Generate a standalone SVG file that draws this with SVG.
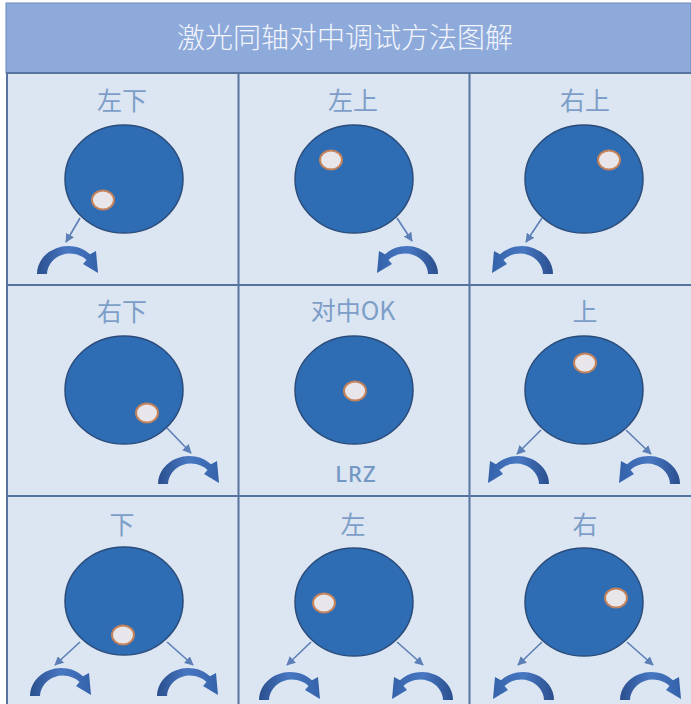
<svg xmlns="http://www.w3.org/2000/svg" width="691" height="704" viewBox="0 0 691 704">
<style>
.bg{fill:#dce6f2}
.grid{stroke:#56749f;stroke-width:2;fill:none}
.title{font-family:"Noto Sans CJK SC","Noto Sans",sans-serif;font-size:28px;font-weight:300;fill:#f2f5fb;text-anchor:middle}
.lbl{font-family:"Noto Sans CJK SC","Noto Sans",sans-serif;font-size:25px;fill:#7c9ec8;text-anchor:middle}
.lrz{font-family:"Noto Sans",sans-serif;font-size:22px;font-weight:500;letter-spacing:1px;fill:#7498c4;text-anchor:middle}
.disk{fill:#2e6db4;stroke:#2b4c7a;stroke-width:1.5}
.hole{fill:#e8e6ea;stroke:#c4825a;stroke-width:2}
.ptr{stroke:#5b7fb6;stroke-width:1.6;fill:none;marker-end:url(#ah)}
.rot{fill:url(#rg)}
</style>
<defs>
<marker id="ah" viewBox="0 0 10 10" refX="9" refY="5" markerWidth="9" markerHeight="9" markerUnits="userSpaceOnUse" orient="auto">
<path d="M0,0 L10,5 L0,10 Z" fill="#5b7fb6"/>
</marker>
<linearGradient id="rg" x1="0" y1="0" x2="1" y2="0">
<stop offset="0" stop-color="#2a4f8e"/>
<stop offset="0.5" stop-color="#4877c2"/>
<stop offset="1" stop-color="#3462aa"/>
</linearGradient>
<path id="cw" d="M-31,0 A31 28 0 0 1 22,-19.7 L28,-23 L30,-1 L15,-10 L18.5,-14 A23 21 0 0 0 -21,0 Z"/>
</defs>

<rect x="6" y="73" width="685" height="631" class="bg"/>
<g id="header">
<rect x="6" y="3" width="685" height="70" fill="#8eaadb" stroke="#6a89bd" stroke-width="1"/>
<text x="345" y="48" class="title">激光同轴对中调试方法图解</text>
</g>
<g id="grid">
<path class="grid" d="M7,73 V704 M238.5,73 V704 M469.5,73 V704 M6,73 H691 M6,285 H691 M6,496 H691"/>
</g>

<g id="cell-zuoxia">
<text x="122" y="110" class="lbl">左下</text>
<ellipse cx="124" cy="179" rx="59" ry="54" class="disk"/>
<ellipse cx="103" cy="200" rx="11" ry="9.5" class="hole"/>
</g>
<g id="cell-zuoshang">
<text x="353" y="110" class="lbl">左上</text>
<ellipse cx="354" cy="179" rx="59" ry="54" class="disk"/>
<ellipse cx="331" cy="160" rx="11" ry="9.5" class="hole"/>
</g>
<g id="cell-youshang">
<text x="585" y="110" class="lbl">右上</text>
<ellipse cx="584" cy="179" rx="59" ry="54" class="disk"/>
<ellipse cx="609" cy="160" rx="11" ry="9.5" class="hole"/>
</g>
<g id="cell-youxia">
<text x="122" y="321" class="lbl">右下</text>
<ellipse cx="124" cy="390" rx="59" ry="54" class="disk"/>
<ellipse cx="147" cy="413" rx="11" ry="9.5" class="hole"/>
</g>
<g id="cell-ok">
<text x="353" y="320" class="lbl">对中OK</text>
<ellipse cx="354" cy="390" rx="59" ry="54" class="disk"/>
<ellipse cx="355" cy="391" rx="11" ry="9.5" class="hole"/>
<text x="356" y="482" class="lrz">LRZ</text>
</g>
<g id="cell-shang">
<text x="585" y="321" class="lbl">上</text>
<ellipse cx="584" cy="390" rx="59" ry="54" class="disk"/>
<ellipse cx="585" cy="363" rx="11" ry="9.5" class="hole"/>
</g>
<g id="cell-xia">
<text x="122" y="534" class="lbl">下</text>
<ellipse cx="124" cy="601" rx="59" ry="54" class="disk"/>
<ellipse cx="123" cy="635" rx="11" ry="9.5" class="hole"/>
</g>
<g id="cell-zuo">
<text x="353" y="534" class="lbl">左</text>
<ellipse cx="354" cy="602" rx="59" ry="54" class="disk"/>
<ellipse cx="324" cy="603" rx="11" ry="9.5" class="hole"/>
</g>
<g id="cell-you">
<text x="585" y="534" class="lbl">右</text>
<ellipse cx="584" cy="602" rx="59" ry="54" class="disk"/>
<ellipse cx="616" cy="598" rx="11" ry="9.5" class="hole"/>
</g>

<g id="connectors">
<line x1="80" y1="218" x2="66" y2="242" class="ptr"/>
<line x1="397" y1="218" x2="412" y2="241" class="ptr"/>
<line x1="542" y1="218" x2="526" y2="242" class="ptr"/>
<line x1="167" y1="428" x2="191" y2="453" class="ptr"/>
<line x1="541" y1="430" x2="517" y2="454" class="ptr"/>
<line x1="626" y1="430" x2="651" y2="454" class="ptr"/>
<line x1="80" y1="642" x2="55" y2="665" class="ptr"/>
<line x1="167" y1="642" x2="193" y2="665" class="ptr"/>
<line x1="311" y1="642" x2="287" y2="665" class="ptr"/>
<line x1="397" y1="642" x2="423" y2="665" class="ptr"/>
<line x1="542" y1="642" x2="518" y2="665" class="ptr"/>
<line x1="627" y1="642" x2="653" y2="665" class="ptr"/>

<use href="#cw" class="rot" transform="translate(68,274)"/>
<use href="#cw" class="rot" transform="translate(407,274) scale(-1,1)"/>
<use href="#cw" class="rot" transform="translate(522,274) scale(-1,1)"/>
<use href="#cw" class="rot" transform="translate(189,484)"/>
<use href="#cw" class="rot" transform="translate(518,484) scale(-1,1)"/>
<use href="#cw" class="rot" transform="translate(649,484) scale(-1,1)"/>
<use href="#cw" class="rot" transform="translate(61,696)"/>
<use href="#cw" class="rot" transform="translate(188,696)"/>
<use href="#cw" class="rot" transform="translate(290,700)"/>
<use href="#cw" class="rot" transform="translate(422,700) scale(-1,1)"/>
<use href="#cw" class="rot" transform="translate(523,700) scale(-1,1)"/>
<use href="#cw" class="rot" transform="translate(651,700)"/>
</g>
</svg>
